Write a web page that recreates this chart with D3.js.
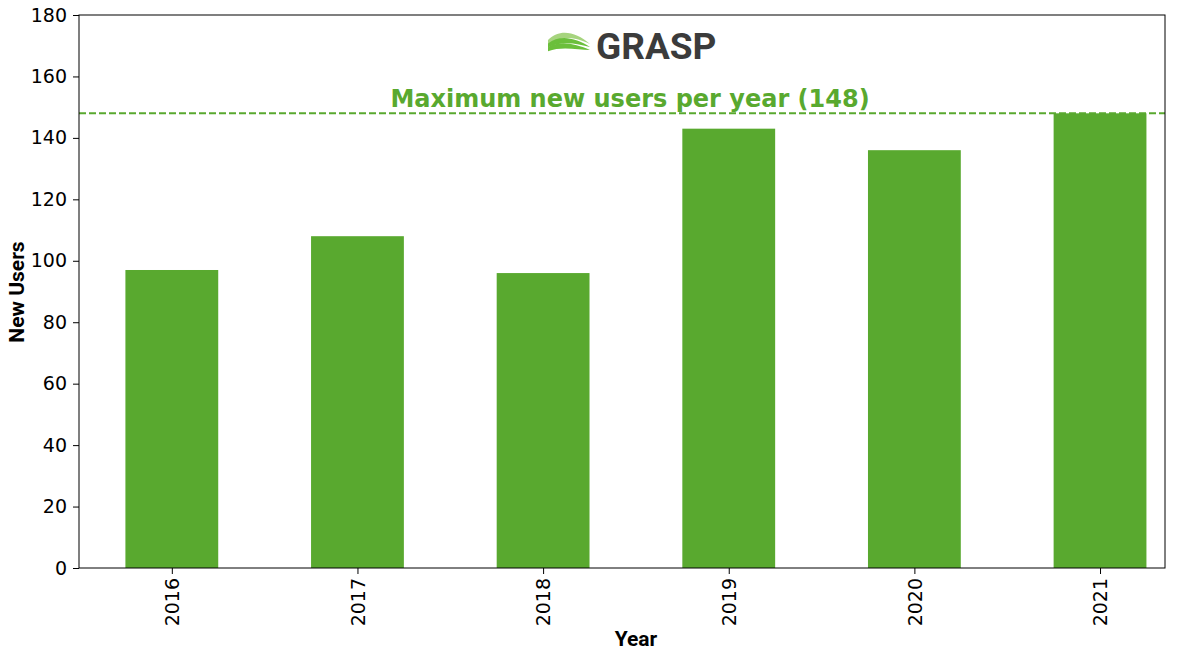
<!DOCTYPE html>
<html><head><meta charset="utf-8">
<script src="https://cdn.jsdelivr.net/npm/d3@7"></script>
<style>body{margin:0;background:#fff}svg{font-family:"DejaVu Sans",sans-serif}</style>
</head><body><div id="chart"></div>
<script>
const years = ['2016', '2017', '2018', '2019', '2020', '2021'];
const newUsers = [97, 108, 96, 143, 136, 148];
const yTicks = [0, 20, 40, 60, 80, 100, 120, 140, 160, 180];

const width = 1200, height = 660;
const area = { left: 79, right: 1165, top: 15, bottom: 568 };
const green = '#59a92f';

const svg = d3.select('#chart').append('svg')
  .attr('width', width).attr('height', height);

const xScale = d3.scaleLinear().domain([-0.5, 5.35]).range([area.left, area.right]);
const yScale = d3.scaleLinear().domain([0, 180]).range([area.bottom, area.top]);
const barW = 0.5 * (xScale(1) - xScale(0));

// bars
svg.append('g').selectAll('rect').data(newUsers).join('rect')
  .attr('x', (d, i) => xScale(i) - barW / 2)
  .attr('width', barW)
  .attr('y', d => yScale(d))
  .attr('height', d => yScale(0) - yScale(d))
  .attr('fill', green);

// max line
const maxVal = d3.max(newUsers);
svg.append('line')
  .attr('x1', area.left).attr('x2', area.right)
  .attr('y1', yScale(maxVal)).attr('y2', yScale(maxVal))
  .attr('stroke', green).attr('stroke-width', 2).attr('stroke-dasharray', '7,3');
svg.append('text')
  .attr('x', 630).attr('y', yScale(maxVal) - 6)
  .attr('text-anchor', 'middle').attr('fill', green)
  .attr('font-size', 24).attr('font-weight', 'bold')
  .text(`Maximum new users per year (${maxVal})`);

// frame
svg.append('rect')
  .attr('x', area.left).attr('y', area.top)
  .attr('width', area.right - area.left).attr('height', area.bottom - area.top)
  .attr('fill', 'none').attr('stroke', '#000').attr('stroke-width', 1);

// axes
const yAxis = svg.append('g').attr('transform', `translate(${area.left},0)`)
  .call(d3.axisLeft(yScale).tickValues(yTicks).tickSize(6).tickPadding(6));
yAxis.select('.domain').remove();
yAxis.selectAll('text').attr('font-size', 19).attr('font-family', 'DejaVu Sans').attr('fill', '#000');

const xAxis = svg.append('g').attr('transform', `translate(0,${area.bottom})`)
  .call(d3.axisBottom(xScale).tickValues(d3.range(years.length)).tickFormat(i => years[i]).tickSize(6));
xAxis.select('.domain').remove();
xAxis.selectAll('text')
  .attr('font-size', 19).attr('font-family', 'DejaVu Sans').attr('fill', '#000')
  .attr('transform', 'rotate(-90)').attr('text-anchor', 'end')
  .attr('x', -10).attr('y', 0).attr('dy', '0.35em');

svg.append('text').attr('x', 636).attr('y', 646).attr('text-anchor', 'middle')
  .attr('font-family', 'Roboto').attr('font-weight', 'bold').attr('font-size', 21).text('Year');
svg.append('text').attr('transform', 'translate(24,292) rotate(-90)').attr('text-anchor', 'middle')
  .attr('font-family', 'Roboto').attr('font-weight', 'bold').attr('font-size', 21).text('New Users');

// logo
const logo = svg.append('g').attr('transform', 'translate(546,30)');
[0, 6, 12].forEach((o, k) => {
  logo.append('path')
    .attr('d', `M2,${10 + o * 0.6} C14,${-2 + o} 30,${2 + o} 44,${14 + o * 0.5} C32,${8 + o} 16,${4 + o} 2,${14 + o * 0.6} Z`)
    .attr('fill', k === 0 ? '#a6d47e' : '#6bbf3b');
});
logo.append('text').attr('x', 50).attr('y', 29)
  .attr('font-family', 'Roboto').attr('font-weight', 'bold').attr('font-size', 37)
  .attr('fill', '#3b3b3b').text('GRASP');
</script></body></html>
